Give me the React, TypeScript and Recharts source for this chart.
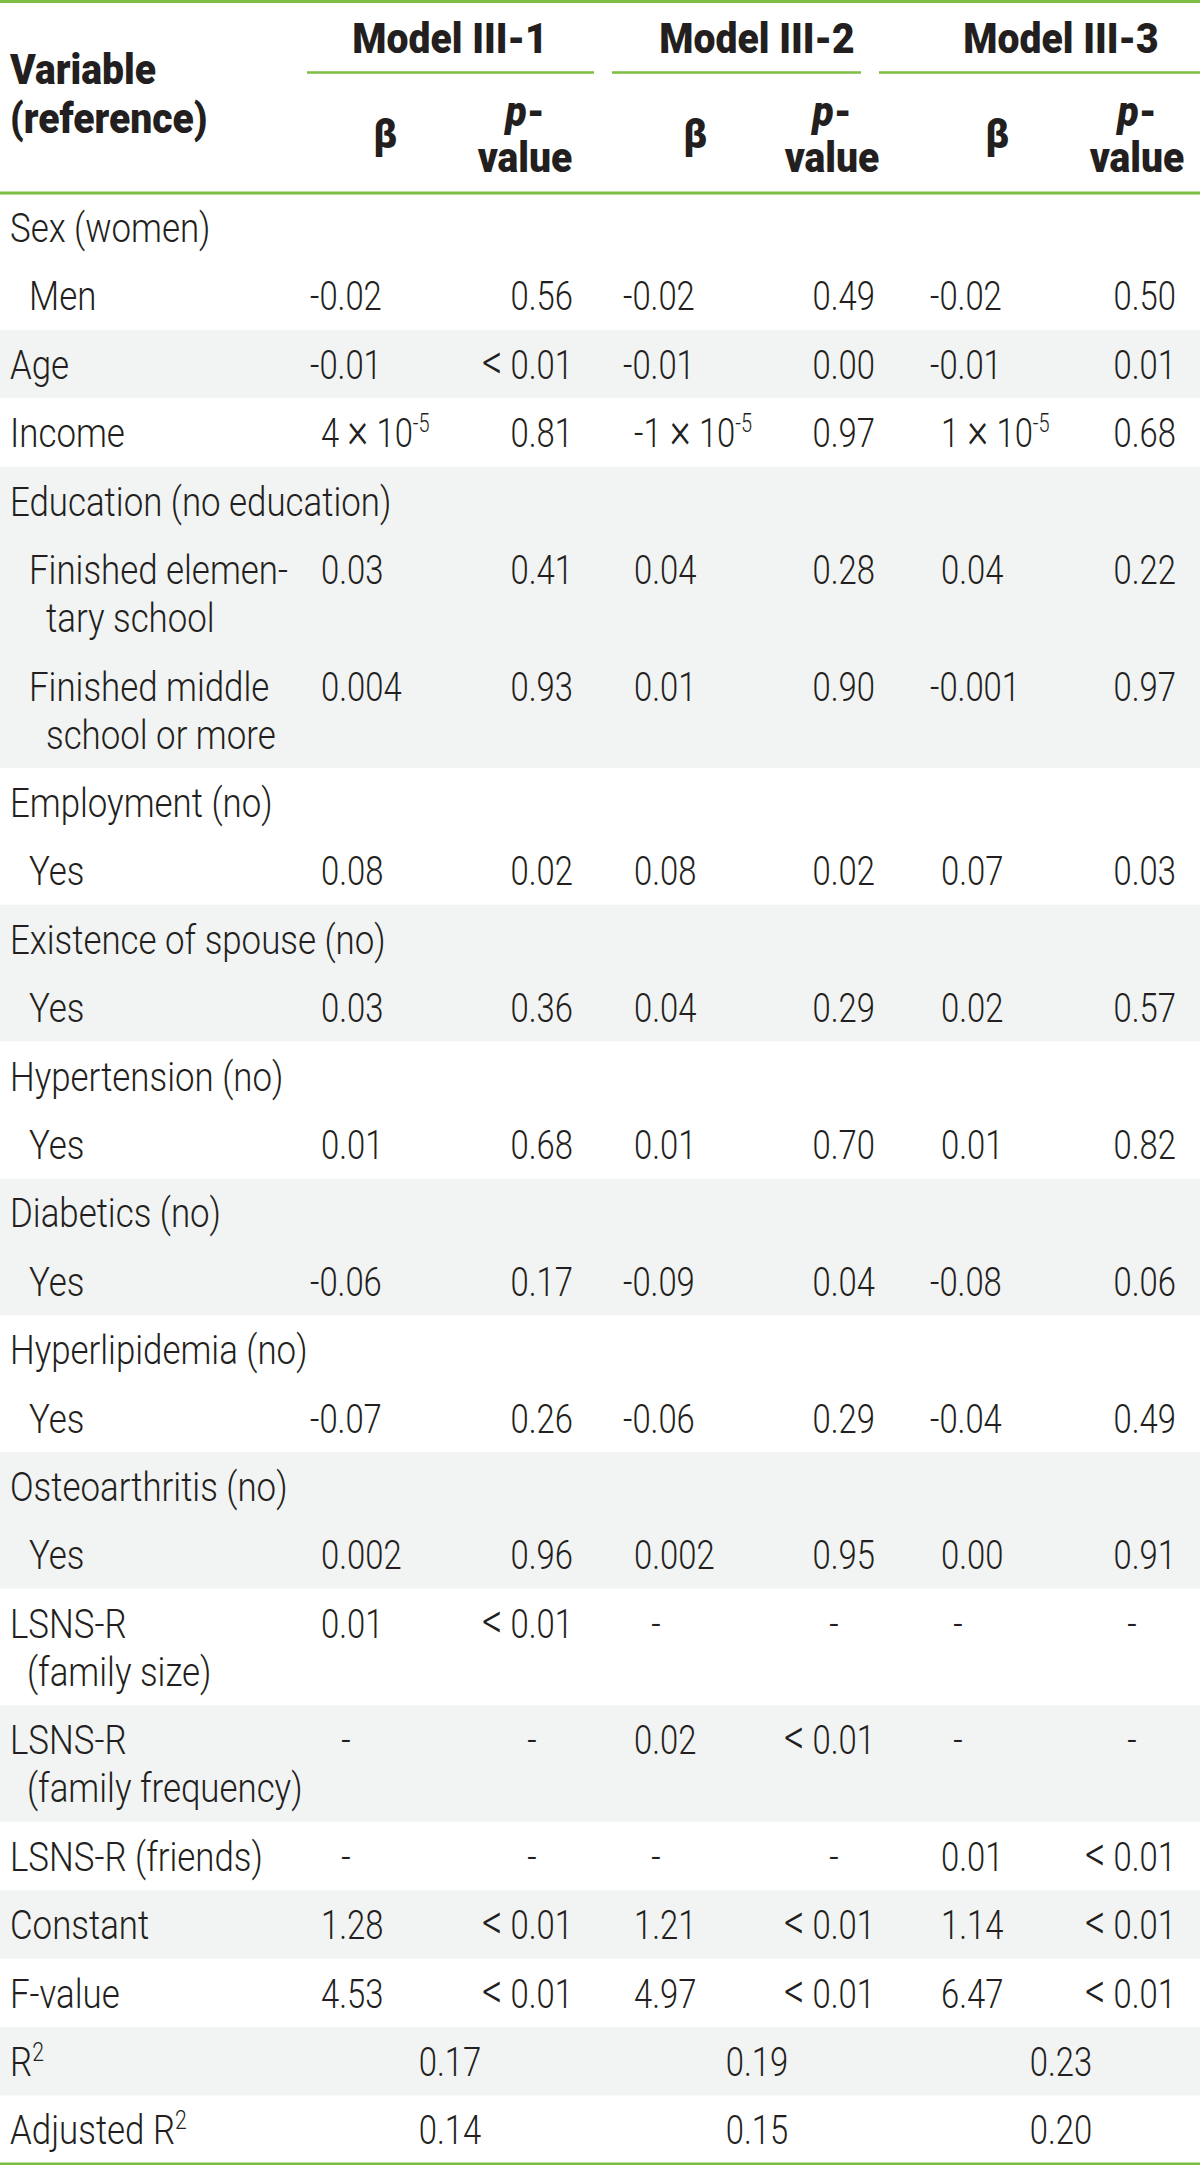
import React from 'react'
import {
  ComposedChart,
  XAxis,
  YAxis,
  Scatter,
  ReferenceArea,
  ReferenceLine,
} from 'recharts'

// row labels ('\n' = line break inside the cell)
const variables = [
  'Sex (women)',
  'Men',
  'Age',
  'Income',
  'Education (no education)',
  'Finished elemen-\ntary school',
  'Finished middle\nschool or more',
  'Employment (no)',
  'Yes',
  'Existence of spouse (no)',
  'Yes',
  'Hypertension (no)',
  'Yes',
  'Diabetics (no)',
  'Yes',
  'Hyperlipidemia (no)',
  'Yes',
  'Osteoarthritis (no)',
  'Yes',
  'LSNS-R\n(family size)',
  'LSNS-R\n(family frequency)',
  'LSNS-R (friends)',
  'Constant',
  'F-value',
  'R^2',
  'Adjusted R^2',
]
const indented = [
  false, true, false, false, false, true, true, false, true, false, true, false, true,
  false, true, false, true, false, true, false, false, false, false, false, false, false,
]

const models = ['Model III-1', 'Model III-2', 'Model III-3']

const betaModel1 = ['', '-0.02', '-0.01', '4×10^-5', '', '0.03', '0.004', '', '0.08', '', '0.03', '', '0.01', '', '-0.06', '', '-0.07', '', '0.002', '0.01', '-', '-', '1.28', '4.53', '', '']
const pModel1 = ['', '0.56', '<0.01', '0.81', '', '0.41', '0.93', '', '0.02', '', '0.36', '', '0.68', '', '0.17', '', '0.26', '', '0.96', '<0.01', '-', '-', '<0.01', '<0.01', '', '']
const betaModel2 = ['', '-0.02', '-0.01', '-1×10^-5', '', '0.04', '0.01', '', '0.08', '', '0.04', '', '0.01', '', '-0.09', '', '-0.06', '', '0.002', '-', '0.02', '-', '1.21', '4.97', '', '']
const pModel2 = ['', '0.49', '0.00', '0.97', '', '0.28', '0.90', '', '0.02', '', '0.29', '', '0.70', '', '0.04', '', '0.29', '', '0.95', '-', '<0.01', '-', '<0.01', '<0.01', '', '']
const betaModel3 = ['', '-0.02', '-0.01', '1×10^-5', '', '0.04', '-0.001', '', '0.07', '', '0.02', '', '0.01', '', '-0.08', '', '-0.04', '', '0.00', '-', '-', '0.01', '1.14', '6.47', '', '']
const pModel3 = ['', '0.50', '0.01', '0.68', '', '0.22', '0.97', '', '0.03', '', '0.57', '', '0.82', '', '0.06', '', '0.49', '', '0.91', '-', '-', '<0.01', '<0.01', '<0.01', '', '']

const r2Values = ['0.17', '0.19', '0.23']
const adjR2Values = ['0.14', '0.15', '0.20']

// layout
const W = 1200
const H = 2165
const BODY_TOP = 193
const ROW = 68.4
const ROW2 = 116.5
const GREEN = '#7dbd42'
const SHADE = '#f2f3f3'
const INK = '#231f20'
const FONT = 'Roboto, "Noto Sans", sans-serif'
const SX_LABEL = 0.85
const SX_NUM = 0.8
const SX_BOLD = 0.93

const modelCenters = [450, 757, 1061]
const modelRules = [
  [307, 594],
  [612, 861],
  [879, 1200],
]
const betaLeft = [321, 634, 941]
const betaCenter = [346, 656, 958]
const pRight = [573, 875, 1176]
const pCenter = [525, 832, 1137]
const pDashCenter = [532, 834, 1132]

type Pt = {
  x: number
  y: number
  text: string
  anchor: 'start' | 'middle' | 'end'
  bold?: boolean
  label?: boolean
  kind?: string
}

// typographic touches: big "<" and "×", superscript after "^"
function Rich({ text }: { text: string }) {
  const [base, sup] = text.split('^')
  const parts = base.split(/([<×])/)
  return (
    <>
      {parts.map((s, k) =>
        s === '<' ? (
          <tspan key={k} fontSize={50}>
            {'<\u2009'}
          </tspan>
        ) : s === '×' ? (
          <tspan key={k} fontSize={50}>
            {'\u2009×\u2009'}
          </tspan>
        ) : (
          <tspan key={k}>{s}</tspan>
        )
      )}
      {sup ? (
        <tspan dy={-15} fontSize={25}>
          {sup}
        </tspan>
      ) : null}
    </>
  )
}

function CellShape(props: any) {
  const { cx, cy, payload } = props
  const p: Pt = payload
  if (cx == null || cy == null) return null
  const sx = p.bold ? SX_BOLD : p.label ? SX_LABEL : SX_NUM
  const common = {
    fill: INK,
    fontFamily: FONT,
    fontSize: p.bold ? 42 : 41,
    fontWeight: p.bold ? 900 : 300,
    textAnchor: p.anchor,
  }
  if (p.kind === 'pvalue') {
    return (
      <g>
        <text {...common} transform={`translate(${cx} ${cy}) scale(${sx} 1)`}>
          <tspan fontStyle="italic">p</tspan>-
        </text>
        <text {...common} transform={`translate(${cx} ${cy + 46}) scale(${sx} 1)`}>
          value
        </text>
      </g>
    )
  }
  if (p.kind === 'block') {
    const [a, b] = p.text.split('\n')
    return (
      <g>
        <text {...common} transform={`translate(${cx} ${cy}) scale(${sx} 1)`}>
          {a}
        </text>
        <text {...common} transform={`translate(${cx} ${cy + 49}) scale(${sx} 1)`}>
          {b}
        </text>
      </g>
    )
  }
  const lines = p.text.split('\n')
  return (
    <g>
      {lines.map((ln, k) => (
        <text
          key={k}
          {...common}
          transform={`translate(${cx + (k > 0 ? 17 : 0)} ${cy + k * 48}) scale(${sx} 1)`}
        >
          <Rich text={ln} />
        </text>
      ))}
    </g>
  )
}

export default function App() {
  // row geometry from the number of lines in each label
  const rows: { top: number; h: number; shaded: boolean }[] = []
  let top = BODY_TOP
  let group = -1
  variables.forEach((v, i) => {
    const h = v.includes('\n') ? ROW2 : ROW
    if (!indented[i]) group++
    rows.push({ top, h, shaded: group % 2 === 1 })
    top += h
  })

  const bands: [number, number][] = []
  rows.forEach((r) => {
    if (!r.shaded) return
    const last = bands[bands.length - 1]
    if (last && Math.abs(last[1] - r.top) < 0.5) last[1] = r.top + r.h
    else bands.push([r.top, r.top + r.h])
  })

  const baseline = (i: number) => rows[i].top + 49

  const labelPts: Pt[] = variables.map((v, i) => ({
    x: indented[i] ? 29 : 10,
    y: baseline(i),
    text: v,
    anchor: 'start',
    label: true,
  }))

  const betaCols = [betaModel1, betaModel2, betaModel3]
  const pCols = [pModel1, pModel2, pModel3]

  const valuePts: Pt[] = []
  betaCols.forEach((col, m) => {
    col.forEach((t, i) => {
      if (!t) return
      if (t === '-') {
        valuePts.push({ x: betaCenter[m], y: baseline(i), text: t, anchor: 'middle' })
      } else {
        const neg = t.startsWith('-') && !t.includes('×')
        valuePts.push({ x: betaLeft[m] - (neg ? 11 : 0), y: baseline(i), text: t, anchor: 'start' })
      }
    })
  })
  pCols.forEach((col, m) => {
    col.forEach((t, i) => {
      if (!t) return
      if (t === '-') valuePts.push({ x: pDashCenter[m], y: baseline(i), text: t, anchor: 'middle' })
      else valuePts.push({ x: pRight[m], y: baseline(i), text: t, anchor: 'end' })
    })
  })
  const r2Row = variables.indexOf('R^2')
  const adjRow = variables.indexOf('Adjusted R^2')
  r2Values.forEach((t, m) =>
    valuePts.push({ x: modelCenters[m], y: baseline(r2Row), text: t, anchor: 'middle' })
  )
  adjR2Values.forEach((t, m) =>
    valuePts.push({ x: modelCenters[m], y: baseline(adjRow), text: t, anchor: 'middle' })
  )

  const headerPts: Pt[] = [
    { x: 10, y: 84, text: 'Variable\n(reference)', anchor: 'start', bold: true, kind: 'block' },
    ...models.map((t, m) => ({ x: modelCenters[m], y: 53, text: t, anchor: 'middle' as const, bold: true })),
    ...models.map((_, m) => ({ x: betaCenter[m] + 39, y: 148, text: 'β', anchor: 'middle' as const, bold: true })),
    ...models.map((_, m) => ({ x: pCenter[m], y: 126, text: 'p-value', anchor: 'middle' as const, bold: true, kind: 'pvalue' })),
  ]

  return (
    <div style={{ position: 'absolute', left: 0, top: 0, background: '#fff' }}>
      <ComposedChart width={W} height={H} margin={{ top: 0, right: 0, bottom: 0, left: 0 }}>
        <XAxis type="number" dataKey="x" domain={[0, W]} hide allowDataOverflow />
        <YAxis type="number" dataKey="y" domain={[0, H]} reversed hide allowDataOverflow />
        {bands.map(([y1, y2], k) => (
          <ReferenceArea key={k} x1={0} x2={W} y1={y1} y2={y2} fill={SHADE} fillOpacity={1} stroke="none" />
        ))}
        <ReferenceLine y={1.5} stroke={GREEN} strokeWidth={3} />
        <ReferenceLine y={BODY_TOP} stroke={GREEN} strokeWidth={3} />
        <ReferenceLine y={top} stroke={GREEN} strokeWidth={2.5} />
        {modelRules.map(([a, b], k) => (
          <ReferenceLine
            key={k}
            segment={[
              { x: a, y: 72.5 },
              { x: b, y: 72.5 },
            ]}
            stroke={GREEN}
            strokeWidth={2.5}
          />
        ))}
        <Scatter data={headerPts} shape={CellShape} isAnimationActive={false} />
        <Scatter data={labelPts} shape={CellShape} isAnimationActive={false} />
        <Scatter data={valuePts} shape={CellShape} isAnimationActive={false} />
      </ComposedChart>
    </div>
  )
}
